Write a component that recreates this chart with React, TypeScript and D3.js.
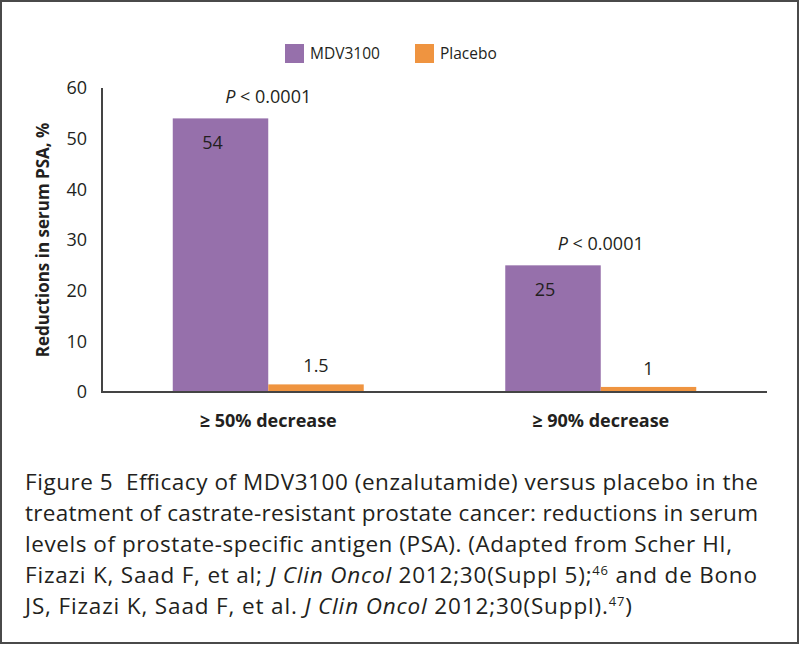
import React from "react";
import * as d3 from "d3";

const categories = ["≥ 50% decrease", "≥ 90% decrease"];
const seriesNames = ["MDV3100", "Placebo"];
const mdv3100 = [54, 25];
const placebo = [1.5, 1];
const pLabels = ["P < 0.0001", "P < 0.0001"];
const yTicks = [0, 10, 20, 30, 40, 50, 60];
const yTitle = "Reductions in serum PSA, %";
const captionLines = [
  [{ t: "Figure 5\u00a0 Efficacy of MDV3100 (enzalutamide) versus placebo in the" }],
  [{ t: "treatment of castrate-resistant prostate cancer: reductions in serum" }],
  [{ t: "levels of prostate-specific antigen (PSA). (Adapted from Scher HI," }],
  [
    { t: "Fizazi K, Saad F, et al; " },
    { t: "J Clin Oncol", i: true },
    { t: " 2012;30(Suppl 5);" },
    { t: "46", sup: true },
    { t: " and de Bono" },
  ],
  [
    { t: "JS, Fizazi K, Saad F, et al. " },
    { t: "J Clin Oncol", i: true },
    { t: " 2012;30(Suppl)." },
    { t: "47", sup: true },
    { t: ")" },
  ],
];
const captionWidths = [733, 733, 707, 732, 607];

const W = 800;
const H = 646;
const colors = ["#9670ab", "#ef9440"];
const FONT = "'Open Sans', 'Liberation Sans', sans-serif";
const TEXT = "#231f20";

export default function App() {
  const x0 = d3
    .scaleBand<string>()
    .domain(categories)
    .range([102, 767])
    .paddingInner(0.4256)
    .paddingOuter(0.2128);
  const x1 = d3
    .scaleBand<string>()
    .domain(seriesNames)
    .range([0, x0.bandwidth()]);
  const y = d3.scaleLinear().domain([0, 60]).range([392, 88]);
  const series = [mdv3100, placebo];

  return (
    <svg
      width={W}
      height={H}
      style={{ position: "absolute", left: 0, top: 0 }}
      fontFamily={FONT}
    >
      <rect x={0} y={0} width={W} height={H} fill="#fff" />
      <rect x={1} y={1} width={797} height={642} fill="none" stroke="#4a4a4a" strokeWidth={2} />

      {/* legend */}
      {seriesNames.map((s, i) => {
        const lx = [285, 415][i];
        return (
          <g key={s}>
            <rect x={lx} y={44} width={19} height={19} fill={colors[i]} />
            <text x={lx + 25} y={59} fontSize={15.5} fill={TEXT}>
              {s}
            </text>
          </g>
        );
      })}

      {/* bars */}
      {categories.map((c, ci) => (
        <g key={c} transform={`translate(${x0(c)},0)`}>
          {seriesNames.map((s, si) => {
            const v = series[si][ci];
            const bx = x1(s)!;
            const bw = x1.bandwidth();
            return (
              <g key={s}>
                <rect x={bx} y={y(v)} width={bw} height={y(0) - y(v)} fill={colors[si]} />
                <text
                  x={bx + bw / 2 + (si === 0 ? -8 : 0)}
                  y={si === 0 ? y(v) + 31 : y(v) - 12}
                  textAnchor="middle"
                  fontSize={18}
                  fill={TEXT}
                >
                  {v}
                </text>
              </g>
            );
          })}
          <text
            x={x0.bandwidth() / 2}
            y={y(series[0][ci]) - 15}
            textAnchor="middle"
            fontSize={18}
            fill={TEXT}
          >
            <tspan fontStyle="italic">P</tspan>
            <tspan>{pLabels[ci].slice(1)}</tspan>
          </text>
          <text
            x={x0.bandwidth() / 2}
            y={427}
            textAnchor="middle"
            fontSize={18}
            fontWeight="bold"
            fill={TEXT}
          >
            {c}
          </text>
        </g>
      ))}

      {/* axes */}
      <line x1={102} x2={102} y1={y(60)} y2={y(0)} stroke="#444" strokeWidth={2} />
      <line x1={101} x2={767} y1={y(0)} y2={y(0)} stroke="#444" strokeWidth={2} />
      {yTicks.map((t) => (
        <text key={t} x={87} y={y(t)} dy="0.35em" textAnchor="end" fontSize={18} fill={TEXT}>
          {t}
        </text>
      ))}
      <text
        transform={`translate(49,${(y(0) + y(60)) / 2}) rotate(-90)`}
        textAnchor="middle"
        fontSize={17}
        fontWeight="bold"
        fill={TEXT}
      >
        {yTitle}
      </text>

      {/* caption */}
      {captionLines.map((parts, li) => (
        <text
          key={li}
          x={25}
          y={490 + li * 31}
          fontSize={22.5}
          fill={TEXT}
          textLength={captionWidths[li]}
          lengthAdjust="spacing"
        >
          {parts.map((p, pi) =>
            p.sup ? (
              <tspan key={pi} fontSize={13} dy={-8}>
                {p.t}
              </tspan>
            ) : (
              <tspan
                key={pi}
                fontStyle={p.i ? "italic" : "normal"}
                dy={pi > 0 && parts[pi - 1].sup ? 8 : 0}
              >
                {p.t}
              </tspan>
            )
          )}
        </text>
      ))}
    </svg>
  );
}
